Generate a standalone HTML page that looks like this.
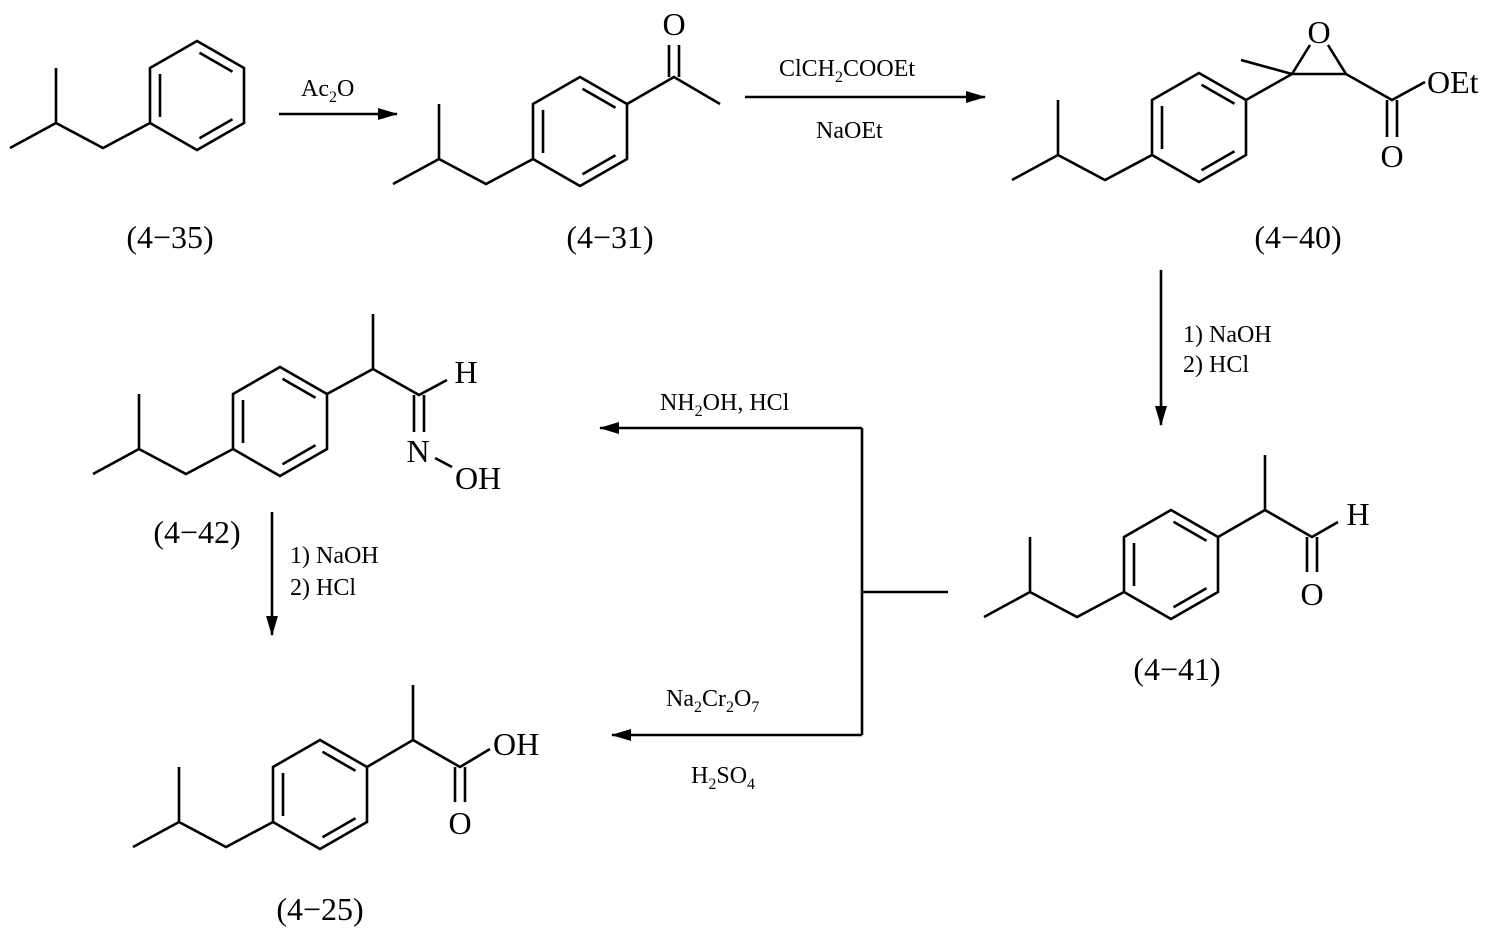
<!DOCTYPE html>
<html><head><meta charset="utf-8"><style>
html,body{margin:0;padding:0;background:#fff;}
svg{display:block;}
text{font-family:"Liberation Serif",serif;fill:#000;}
.lb{font-size:32px;text-anchor:middle;}
.at{font-size:32px;}
.rg{font-size:24px;}
</style></head><body>
<svg width="1494" height="936" viewBox="0 0 1494 936" xmlns="http://www.w3.org/2000/svg">
<defs>
<marker id="ah" markerWidth="20" markerHeight="12" refX="19" refY="6" orient="auto" markerUnits="userSpaceOnUse">
<path d="M0,0 L20,6 L0,12 Z" fill="#000"/>
</marker>
<g id="ibp" fill="none" stroke="#000" stroke-width="2.6" stroke-linejoin="miter">
<path d="M-140,25 L-94,0 L-94,-55 M-94,0 L-47,25 L0,0"/>
<path d="M0,0 L0,-55 L47,-82 L94,-55 L94,0 L47,27 Z"/>
<path d="M10,-49 L10,-6 M49.5,-70.2 L82.5,-51.2 M82.5,-3.8 L49.5,15.2"/>
</g>
</defs>

<g fill="none" stroke="#000" stroke-width="2.6">
<use href="#ibp" x="150" y="123"/>
<use href="#ibp" x="533" y="159"/>
<path d="M627,104 L674,77 L720,104 M669,77 L669,45 M679,77 L679,45"/>
<use href="#ibp" x="1152" y="155"/>
<path d="M1246,100 L1292,74 L1346,74 L1392,100 L1425,82 M1241,60 L1292,74 M1292,74 L1310,45 M1346,74 L1328,45 M1387,100 L1387,137 M1397,100 L1397,137"/>
<use href="#ibp" x="233" y="449"/>
<path d="M327,394 L373,369 L419,395 L447,380 M373,369 L373,314 M414,395 L414,432 M424,395 L424,432 M435,458 L452,467"/>
<use href="#ibp" x="1124" y="592"/>
<path d="M1218,537 L1265,510 L1312,537 L1338,522 M1265,510 L1265,455 M1307,537 L1307,572 M1317,537 L1317,572"/>
<use href="#ibp" x="273" y="822"/>
<path d="M367,767 L413,740 L460,767 L490,749 M413,740 L413,685 M455,767 L455,802 M465,767 L465,802"/>

<path d="M279,114 L397,114" marker-end="url(#ah)"/>
<path d="M745,97 L985,97" marker-end="url(#ah)"/>
<path d="M1161,270 L1161,425" marker-end="url(#ah)"/>
<path d="M272,512 L272,635" marker-end="url(#ah)"/>
<path d="M948,592 L862,592 M862,428 L862,735"/>
<path d="M862,428 L600,428" marker-end="url(#ah)"/>
<path d="M862,735 L612,735" marker-end="url(#ah)"/>
</g>

<text class="at" x="674" y="35" text-anchor="middle">O</text>
<text class="at" x="1319" y="43" text-anchor="middle">O</text>
<text class="at" x="1427" y="93">OEt</text>
<text class="at" x="1392" y="167" text-anchor="middle">O</text>
<text class="at" x="466" y="383" text-anchor="middle">H</text>
<text class="at" x="418" y="462" text-anchor="middle">N</text>
<text class="at" x="455" y="489">OH</text>
<text class="at" x="1358" y="525" text-anchor="middle">H</text>
<text class="at" x="1312" y="605" text-anchor="middle">O</text>
<text class="at" x="493" y="755">OH</text>
<text class="at" x="460" y="834" text-anchor="middle">O</text>

<text class="lb" x="170" y="248">(4−35)</text>
<text class="lb" x="610" y="248">(4−31)</text>
<text class="lb" x="1298" y="248">(4−40)</text>
<text class="lb" x="197" y="543">(4−42)</text>
<text class="lb" x="1177" y="680">(4−41)</text>
<text class="lb" x="320" y="920">(4−25)</text>

<text class="rg" x="301" y="96">Ac<tspan font-size="16" dy="6">2</tspan><tspan dy="-6">O</tspan></text>
<text class="rg" x="779" y="76">ClCH<tspan font-size="16" dy="6">2</tspan><tspan dy="-6">COOEt</tspan></text>
<text class="rg" x="816" y="138">NaOEt</text>
<text class="rg" x="1183" y="342">1) NaOH</text>
<text class="rg" x="1183" y="372">2) HCl</text>
<text class="rg" x="660" y="410">NH<tspan font-size="16" dy="6">2</tspan><tspan dy="-6">OH, HCl</tspan></text>
<text class="rg" x="290" y="563">1) NaOH</text>
<text class="rg" x="290" y="595">2) HCl</text>
<text class="rg" x="666" y="706">Na<tspan font-size="16" dy="6">2</tspan><tspan dy="-6">Cr</tspan><tspan font-size="16" dy="6">2</tspan><tspan dy="-6">O</tspan><tspan font-size="16" dy="6">7</tspan></text>
<text class="rg" x="691" y="783">H<tspan font-size="16" dy="6">2</tspan><tspan dy="-6">SO</tspan><tspan font-size="16" dy="6">4</tspan></text>
</svg>
</body></html>
